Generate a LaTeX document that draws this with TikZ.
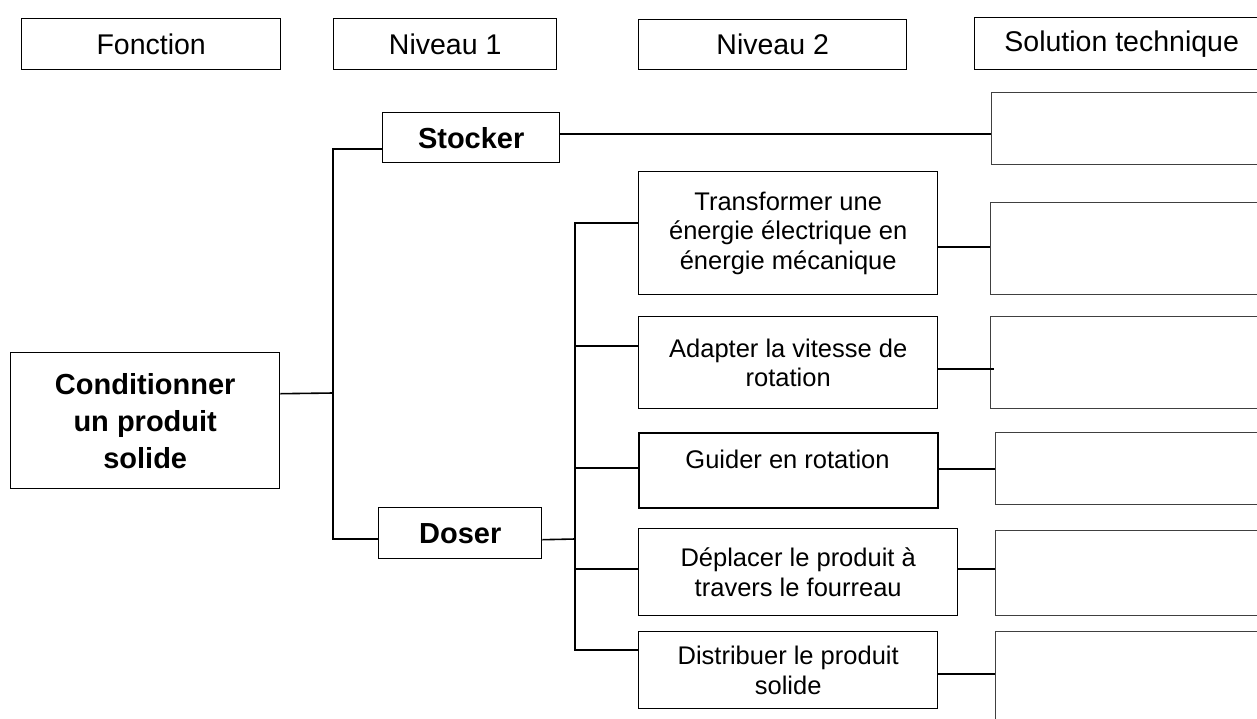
\documentclass[tikz,border=0pt]{standalone}
\usepackage{fontspec}
\setmainfont{Liberation Sans}
\begin{document}
\begin{tikzpicture}[x=1pt,y=-1pt,
  box/.style={draw,line width=1.4pt,rectangle,inner sep=0pt,anchor=north west,align=center},
  head/.style={box,font=\fontsize{28.5}{32}\selectfont},
  bbox/.style={box,font=\fontsize{29}{37}\selectfont\bfseries},
  sbox/.style={box,font=\fontsize{25.5}{29.5}\selectfont},
  solbox/.style={box,draw=black!75,line width=1.2pt},
  conn/.style={line width=1.6pt}]
\clip (0,0) rectangle (1257,718);
\fill[white] (0,0) rectangle (1257,718);
% headers
\node[head,minimum width=259,minimum height=51] (hF) at (21,18) {Fonction};
\node[head,minimum width=223,minimum height=51] (hN1) at (333,18) {Niveau 1};
\node[head,minimum width=268,minimum height=50] (hN2) at (638,19) {Niveau 2};
\node[head,minimum width=294,minimum height=52] (hST) at (974,17) {Solution technique};
% main function and level 1
\node[bbox,minimum width=269,minimum height=136] (cond) at (10,352) {Conditionner\\un produit\\solide};
\node[bbox,minimum width=177,minimum height=50] (stocker) at (382,112) {Stocker};
\node[bbox,minimum width=163,minimum height=51] (doser) at (378,507) {Doser};
% level 2
\node[sbox,minimum width=299,minimum height=123] (t1) at (638,171) {Transformer une\\énergie électrique en\\énergie mécanique};
\node[sbox,minimum width=299,minimum height=92] (t2) at (638,316) {Adapter la vitesse de\\rotation};
\node[sbox,line width=2.2pt,minimum width=299,minimum height=75] (t3) at (638,432) {};
\node[font=\fontsize{25.5}{29.5}\selectfont,inner sep=0pt] (t3txt) at (787.5,459) {Guider en rotation};
\node[sbox,minimum width=319,minimum height=87] (t4) at (638,528) {Déplacer le produit à\\travers le fourreau};
\node[sbox,minimum width=299,minimum height=77] (t5) at (638,631) {Distribuer le produit\\solide};
% solution boxes
\node[solbox,minimum width=290,minimum height=72] (s1) at (991,92) {};
\node[solbox,minimum width=290,minimum height=92] (s2) at (990,202) {};
\node[solbox,minimum width=290,minimum height=92] (s3) at (990,316) {};
\node[solbox,minimum width=290,minimum height=72] (s4) at (995,432) {};
\node[solbox,minimum width=290,minimum height=85] (s5) at (995,530) {};
\node[solbox,minimum width=290,minimum height=110] (s6) at (995,631) {};
% connectors level 1
\coordinate (bA) at (333,393);
\draw[conn] ([yshift=27pt]cond.east) -- (bA);
\draw[conn] ([yshift=-11pt]stocker.west) -| (bA) |- ([yshift=-5.5pt]doser.west);
\coordinate (ste) at ([yshift=4pt]stocker.east);
\draw[conn] (ste) -- (ste -| s1.west);
% connectors level 2
\coordinate (bB) at (575,539);
\draw[conn] ([yshift=-6.5pt]doser.east) -- (bB);
\draw[conn] ([yshift=10.5pt]t1.west) -| (bB) |- ([yshift=20.5pt]t5.west);
\coordinate (t2w) at ([yshift=17pt]t2.west);
\draw[conn] (t2w) -- (t2w -| bB);
\coordinate (t3w) at ([yshift=2.5pt]t3.west);
\draw[conn] (t3w) -- (t3w -| bB);
\coordinate (t4w) at ([yshift=3.5pt]t4.west);
\draw[conn] (t4w) -- (t4w -| bB);
% level 2 to solutions
\coordinate (t1e) at ([yshift=-13.5pt]t1.east);
\draw[conn] (t1e) -- (t1e -| s2.west);
\coordinate (t2e) at ([yshift=-6pt]t2.east);
\draw[conn] (t2e) -- ([xshift=4pt]t2e -| s3.west);
\coordinate (t3e) at ([yshift=1.5pt]t3.east);
\draw[conn] (t3e) -- (t3e -| s4.west);
\coordinate (t4e) at ([yshift=3.5pt]t4.east);
\draw[conn] (t4e) -- (t4e -| s5.west);
\coordinate (t5e) at ([yshift=-3.5pt]t5.east);
\draw[conn] (t5e) -- (t5e -| s6.west);
\end{tikzpicture}
\end{document}
